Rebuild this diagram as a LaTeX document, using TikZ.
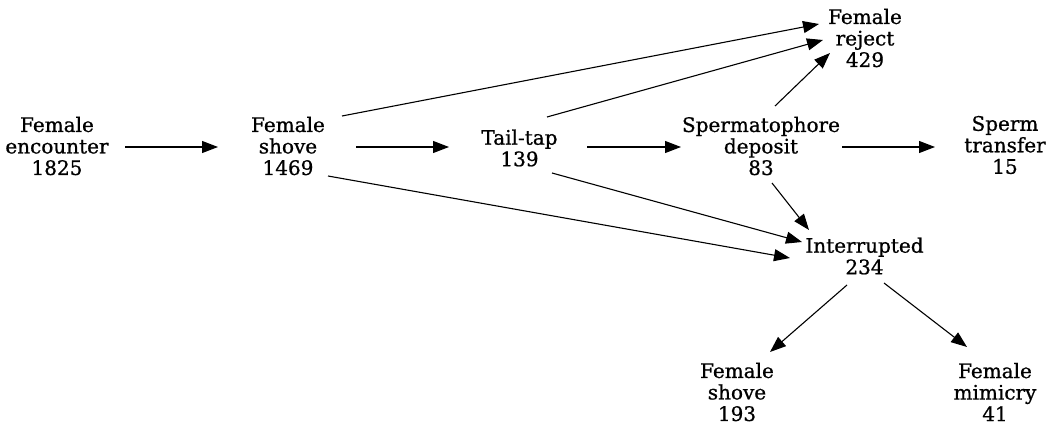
\documentclass[tikz,border=0pt]{standalone}
\usepackage{fontspec}
\setmainfont{DejaVu Serif}[FakeBold=0.8]
\usetikzlibrary{arrows.meta}
\tikzset{
  lbl/.style={align=center, inner sep=0pt, outer sep=0pt, font=\fontsize{20}{21.5}\selectfont},
  arr/.style={line width=1.1pt, -{Triangle[length=16pt, width=12pt]}}
}
\begin{document}
\begin{tikzpicture}[x=1pt, y=-1pt]
\useasboundingbox (0,0) rectangle (1052,425);
\node[lbl] (enc) at (57,146) {Female\\encounter\\1825};
\node[lbl] (sh1) at (288,146) {Female\\shove\\1469};
\node[lbl] (tt) at (519.5,148) {Tail-tap\\139};
\node[lbl] (dep) at (761,146) {Spermatophore\\deposit\\83};
\node[lbl] (tr) at (1005,145) {Sperm\\transfer\\15};
\node[lbl] (rej) at (865,38) {Female\\reject\\429};
\node[lbl] (int) at (864.5,256) {Interrupted\\234};
\node[lbl] (sh2) at (737,392) {Female\\shove\\193};
\node[lbl] (mim) at (995,392) {Female\\mimicry\\41};

\draw[arr] ([shift={(68,1)}]enc.center) -- ([shift={(-70,1)}]sh1.center);
\draw[arr] ([shift={(68,1)}]sh1.center) -- ([shift={(-70.5,-1)}]tt.center);
\draw[arr] ([shift={(67.5,-1)}]tt.center) -- ([shift={(-80,1)}]dep.center);
\draw[arr] ([shift={(81,1)}]dep.center) -- ([shift={(-70,2)}]tr.center);
\draw[arr] ([shift={(54,-30)}]sh1.center) -- ([shift={(-46,-14)}]rej.center);
\draw[arr] ([shift={(27.5,-31)}]tt.center) -- ([shift={(-42,2)}]rej.center);
\draw[arr] ([shift={(14,-40)}]dep.center) -- ([shift={(-35,15)}]rej.center);
\draw[arr] ([shift={(32.5,25)}]tt.center) -- ([shift={(-62.5,-14)}]int.center);
\draw[arr] ([shift={(40,30)}]sh1.center) -- ([shift={(-74.5,2)}]int.center);
\draw[arr] ([shift={(11,37)}]dep.center) -- ([shift={(-55.5,-26)}]int.center);
\draw[arr] ([shift={(-17.5,29)}]int.center) -- ([shift={(33,-40)}]sh2.center);
\draw[arr] ([shift={(19.5,27)}]int.center) -- ([shift={(-28,-45)}]mim.center);
\end{tikzpicture}
\end{document}
